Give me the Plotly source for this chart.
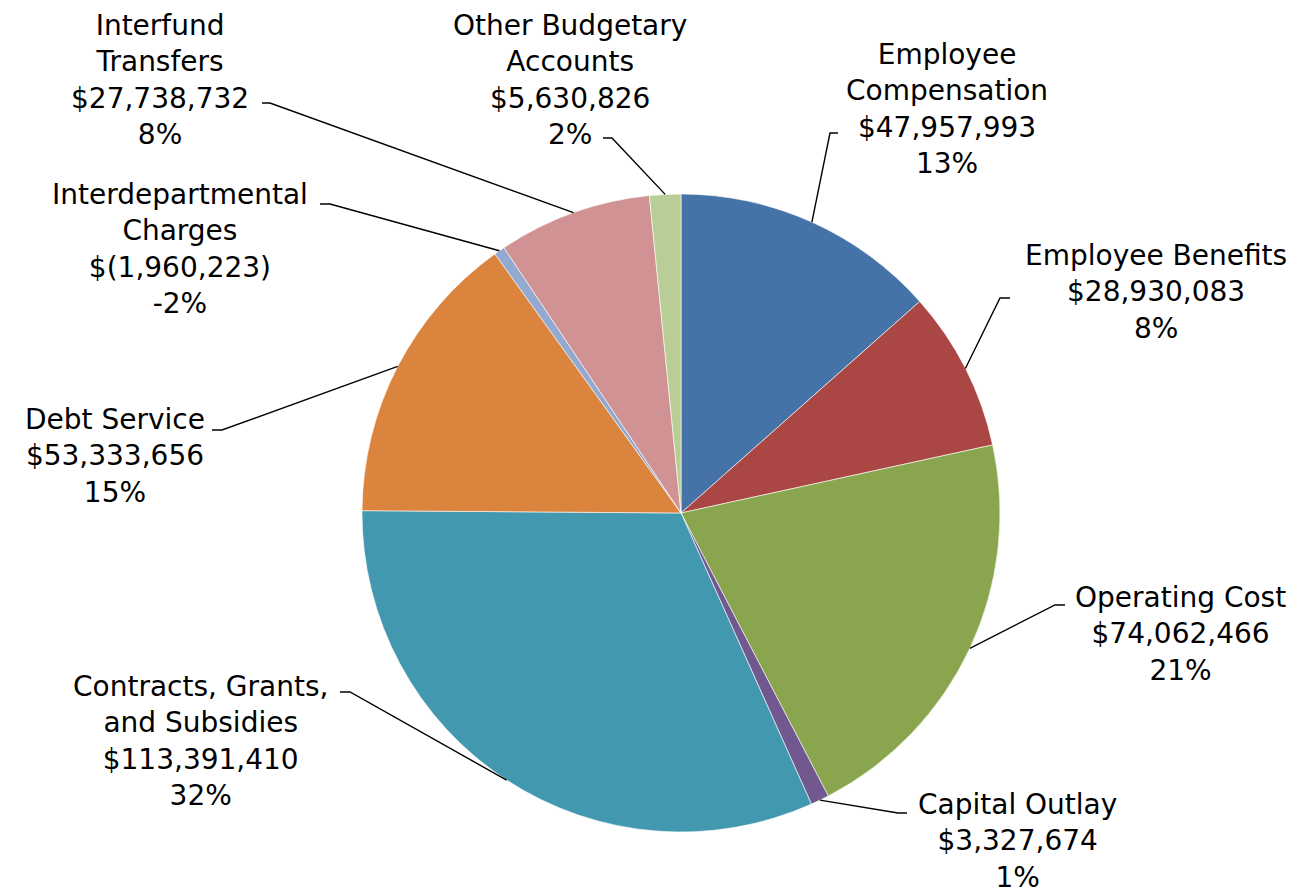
import math
import plotly.graph_objects as go

# Budget categories and amounts
categories = ["Employee Compensation", "Employee Benefits", "Operating Cost", "Capital Outlay",
              "Contracts, Grants, and Subsidies", "Debt Service", "Interdepartmental Charges",
              "Interfund Transfers", "Other Budgetary Accounts"]
amounts = [47957993, 28930083, 74062466, 3327674, 113391410, 53333656, -1960223, 27738732, 5630826]
pct_labels = ["13%", "8%", "21%", "1%", "32%", "15%", "-2%", "8%", "2%"]
name_lines = [["Employee", "Compensation"], ["Employee Benefits"], ["Operating Cost"], ["Capital Outlay"],
              ["Contracts, Grants,", "and Subsidies"], ["Debt Service"], ["Interdepartmental", "Charges"],
              ["Interfund", "Transfers"], ["Other Budgetary", "Accounts"]]

colors = ["#4673A7", "#AA4744", "#89A54E", "#71598F", "#4298AF", "#DB843D", "#93A9D0", "#D09292", "#B9CE96"]

W, H = 1300, 896
OFF = 8  # page body margin
CX, CY, R = 681, 513, 319

# label placement (pixels): text centre, elbow of leader, end of leader
label_pos = [(947, 109), (1156, 292), (1180, 634), (1017, 841), (200, 741),
             (115, 456), (180, 249), (160, 80), (570, 80)]
elbows = [(830, 133), (1000, 298), (1055, 605), (898, 813), (350, 692),
          (222, 430), (330, 204), (270, 103), (612, 138)]
ends = [838, 1010, 1065, 907, 340, 212, 320, 262, 603]


def fmt_money(v):
    if v < 0:
        return "$({:,})".format(-v)
    return "${:,}".format(v)


def px(x, y):
    return (x - OFF) / W, 1 - (y - OFF) / H


slice_vals = [abs(v) for v in amounts]
total = sum(slice_vals)

x0, y0 = px(CX - R, CY + R)
x1, y1 = px(CX + R, CY - R)

fig = go.Figure()
fig.add_trace(go.Pie(
    labels=categories,
    values=slice_vals,
    sort=False,
    direction="clockwise",
    rotation=0,
    textinfo="none",
    hoverinfo="label+value",
    marker=dict(colors=colors, line=dict(color="white", width=0.6)),
    showlegend=False,
    domain=dict(x=[x0, x1], y=[y0, y1]),
))

shapes = []
annotations = []
cum = 0
for i, v in enumerate(slice_vals):
    mid = (cum + v / 2) / total * 2 * math.pi
    cum += v
    ex, ey = CX + R * math.sin(mid), CY - R * math.cos(mid)
    p0 = px(ex, ey)
    p1 = px(*elbows[i])
    p2 = px(ends[i], elbows[i][1])
    shapes.append(dict(type="path", xref="paper", yref="paper",
                       path="M {} {} L {} {} L {} {}".format(p0[0], p0[1], p1[0], p1[1], p2[0], p2[1]),
                       line=dict(color="black", width=1.4)))
    text = "<br>".join(name_lines[i] + [fmt_money(amounts[i]), pct_labels[i]])
    tx, ty = px(*label_pos[i])
    annotations.append(dict(x=tx, y=ty, xref="paper", yref="paper", text=text, showarrow=False,
                            xanchor="center", yanchor="middle", align="center",
                            font=dict(family="DejaVu Sans, Verdana, sans-serif", size=28, color="black")))

fig.update_layout(
    width=W, height=H,
    margin=dict(l=0, r=0, t=0, b=0),
    paper_bgcolor="white",
    plot_bgcolor="white",
    shapes=shapes,
    annotations=annotations,
)

fig.write_html("out.html")
